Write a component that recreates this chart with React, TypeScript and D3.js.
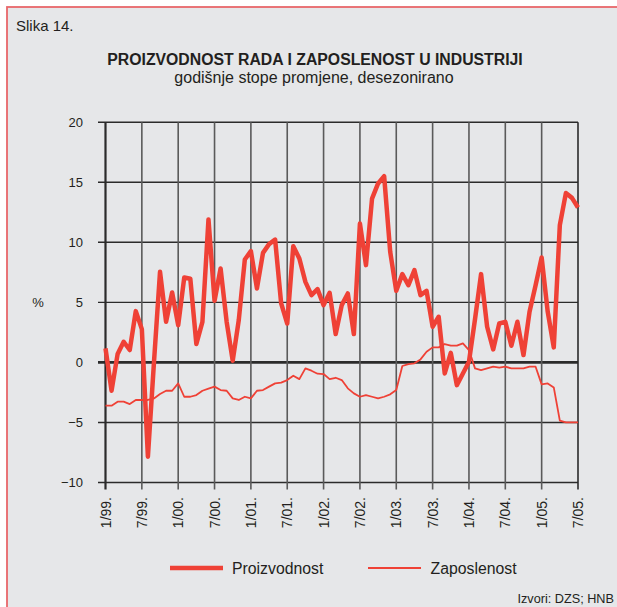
import React, { useEffect, useRef } from "react";
import * as d3 from "d3";

const W = 617;
const H = 607;

const months = d3.range(0, 79); // Jan 1999 .. Jul 2005
const xTickLabels = ["1/99.", "7/99.", "1/00.", "7/00.", "1/01.", "7/01.", "1/02.", "7/02.", "1/03.", "7/03.", "1/04.", "7/04.", "1/05.", "7/05."];
const yTicks = [-10, -5, 0, 5, 10, 15, 20];

const proizvodnost = [
  1.17, -2.36, 0.7, 1.72, 1.03, 4.27, 2.77, -7.85, 0.0, 7.54,
  3.38, 5.82, 3.1, 7.07, 6.96, 1.53, 3.38, 11.9, 5.13, 7.82,
  3.38, 0.14, 3.52, 8.57, 9.26, 6.16, 9.12, 9.85, 10.23, 4.91,
  3.24, 9.68, 8.65, 6.71, 5.6, 6.1, 4.77, 5.8, 2.36, 4.77,
  5.74, 2.36, 11.56, 8.1, 13.64, 14.9, 15.5, 9.2, 5.96, 7.35,
  6.43, 7.68, 5.6, 5.96, 2.97, 3.8, -0.92, 0.8, -1.89, -0.92,
  0.05, 3.6, 7.35, 2.97, 1.08, 3.24, 3.38, 1.39, 3.38, 0.61,
  4.22, 6.43, 8.74, 4.22, 1.25, 11.43, 14.1, 13.7, 12.9,
];

const zaposlenost = [
  -3.6, -3.6, -3.27, -3.27, -3.47, -3.13, -3.13, -3.13, -3.0, -2.63,
  -2.36, -2.36, -1.75, -2.86, -2.86, -2.72, -2.36, -2.19, -2.02, -2.3,
  -2.36, -3.0, -3.13, -2.86, -3.0, -2.36, -2.3, -2.02, -1.75, -1.69,
  -1.47, -1.11, -1.39, -0.5, -0.69, -0.94, -0.97, -1.39, -1.28, -1.47,
  -2.16, -2.58, -2.86, -2.72, -2.86, -3.0, -2.86, -2.66, -2.3, -0.3,
  -0.14, -0.08, 0.25, 0.89, 1.25, 1.25, 1.53, 1.39, 1.39, 1.58,
  1.03, -0.5, -0.64, -0.5, -0.36, -0.44, -0.36, -0.5, -0.5, -0.5,
  -0.36, -0.36, -1.83, -1.75, -2.08, -4.85, -5.0, -5.0, -5.0,
];

const RED = "#ef4136";
const FONT = "'Liberation Sans', Arial, Helvetica, sans-serif";

export default function App() {
  const ref = useRef<SVGSVGElement | null>(null);

  useEffect(() => {
    const svg = d3.select(ref.current);
    svg.selectAll("*").remove();

    const left = 105.5, right = 578, top = 122.2, bottom = 482.5;
    const x = d3.scaleLinear().domain([0, 78]).range([left, right]);
    const y = d3.scaleLinear().domain([-10, 20]).range([bottom, top]);

    // background panel
    svg.append("rect").attr("x", 0).attr("y", 0).attr("width", W).attr("height", H).attr("fill", "#ffffff");
    svg.append("rect").attr("x", 7).attr("y", 7).attr("width", W + 20).attr("height", H + 20)
      .attr("fill", "#e6e7e9").attr("stroke", "#e8676a").attr("stroke-width", 1.8);

    svg.append("text").attr("x", 16).attr("y", 31).attr("font-family", FONT).attr("font-size", 15)
      .attr("fill", "#231f20").text("Slika 14.");
    svg.append("text").attr("x", 315).attr("y", 65).attr("text-anchor", "middle").attr("font-family", FONT)
      .attr("font-size", 15.8).attr("font-weight", "bold").attr("fill", "#231f20")
      .text("PROIZVODNOST RADA I ZAPOSLENOST U INDUSTRIJI");
    svg.append("text").attr("x", 314).attr("y", 83).attr("text-anchor", "middle").attr("font-family", FONT)
      .attr("font-size", 16).attr("fill", "#231f20").text("godišnje stope promjene, desezonirano");

    // horizontal grid + y ticks
    const g = svg.append("g");
    yTicks.forEach((t) => {
      g.append("line").attr("x1", left - 7.5).attr("x2", right).attr("y1", y(t)).attr("y2", y(t))
        .attr("stroke", "#2b2b2b").attr("stroke-width", t === 0 ? 2.6 : 1.4);
      g.append("text").attr("x", 83).attr("y", y(t) + 4.6).attr("text-anchor", "end")
        .attr("font-family", FONT).attr("font-size", 13).attr("fill", "#231f20")
        .text(t < 0 ? "\u2212" + Math.abs(t) : String(t));
    });

    // vertical grid + x ticks
    xTickLabels.forEach((lab, k) => {
      const xx = x(k * 6);
      const isEdge = k === 0 || k === xTickLabels.length - 1;
      g.append("line").attr("x1", xx).attr("x2", xx).attr("y1", top).attr("y2", bottom + 7)
        .attr("stroke", isEdge ? "#2b2b2b" : "#5a5a5a").attr("stroke-width", k === 0 ? 2.2 : 1.6);
      g.append("text").attr("transform", `translate(${xx},497) rotate(-90)`)
        .attr("text-anchor", "end").attr("dy", "0.36em").attr("font-family", FONT)
        .attr("font-size", 14).attr("fill", "#231f20").text(lab);
    });

    svg.append("text").attr("x", 38).attr("y", 307).attr("text-anchor", "middle").attr("font-family", FONT)
      .attr("font-size", 13).attr("fill", "#231f20").text("%");

    const lineGen = d3.line<number>().x((_, i) => x(months[i])).y((d) => y(d));
    svg.append("path").datum(zaposlenost).attr("d", lineGen).attr("fill", "none")
      .attr("stroke", RED).attr("stroke-width", 1.8).attr("stroke-linejoin", "round");
    svg.append("path").datum(proizvodnost).attr("d", lineGen).attr("fill", "none")
      .attr("stroke", RED).attr("stroke-width", 4.5).attr("stroke-linejoin", "round");

    // legend
    svg.append("line").attr("x1", 170).attr("x2", 223).attr("y1", 568).attr("y2", 568)
      .attr("stroke", RED).attr("stroke-width", 4.5);
    svg.append("text").attr("x", 232).attr("y", 574).attr("font-family", FONT).attr("font-size", 15.8)
      .attr("fill", "#231f20").text("Proizvodnost");
    svg.append("line").attr("x1", 368).attr("x2", 421).attr("y1", 568).attr("y2", 568)
      .attr("stroke", RED).attr("stroke-width", 1.8);
    svg.append("text").attr("x", 430.5).attr("y", 574).attr("font-family", FONT).attr("font-size", 15.8)
      .attr("fill", "#231f20").text("Zaposlenost");

    svg.append("text").attr("x", 614).attr("y", 603).attr("text-anchor", "end").attr("font-family", FONT)
      .attr("font-size", 12.7).attr("fill", "#231f20").text("Izvori: DZS; HNB");
  }, []);

  return (
    <svg ref={ref} width={W} height={H} style={{ position: "absolute", left: 0, top: 0, display: "block" }} />
  );
}
